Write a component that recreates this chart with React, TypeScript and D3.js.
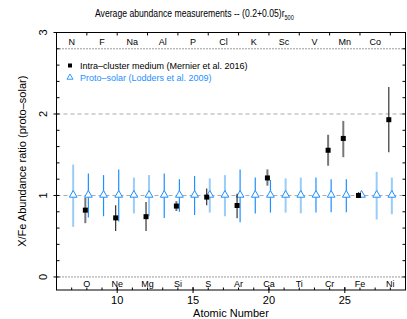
import * as React from "react";
import * as d3 from "d3";

// element labels printed along the top and bottom edges
const topNames = ["N", "F", "Na", "Al", "P", "Cl", "K", "Sc", "V", "Mn", "Co"];
const topZ = [7, 9, 11, 13, 15, 17, 19, 21, 23, 25, 27];
const bottomNames = ["O", "Ne", "Mg", "Si", "S", "Ar", "Ca", "Ti", "Cr", "Fe", "Ni"];
const bottomZ = [8, 10, 12, 14, 16, 18, 20, 22, 24, 26, 28];

// proto-solar (Lodders et al. 2009), ratio 1 with uncertainty range
const solarZ = [7, 8, 9, 10, 11, 12, 13, 14, 15, 16, 17, 18, 19, 20, 21, 22, 23, 24, 25, 26, 27, 28];
const solarLow = [0.615, 0.73, 0.745, 0.68, 0.78, 0.745, 0.725, 0.8, 0.76, 0.79, 0.745, 0.67, 0.78, 0.79, 0.79, 0.78, 0.79, 0.795, 0.795, 0.98, 0.705, 0.77];
const solarHigh = [1.38, 1.27, 1.25, 1.32, 1.22, 1.25, 1.27, 1.2, 1.24, 1.21, 1.25, 1.32, 1.22, 1.19, 1.21, 1.22, 1.22, 1.2, 1.2, 1.045, 1.29, 1.22];
const solarFaint = [true, false, false, false, true, true, false, false, false, true, true, false, false, false, true, true, false, false, false, false, true, true];

// intra-cluster medium measurements
const icmZ = [8, 10, 12, 14, 16, 18, 20, 24, 25, 26, 28];
const icmValue = [0.82, 0.725, 0.74, 0.87, 0.98, 0.877, 1.215, 1.555, 1.7, 1.0, 1.93];
const icmLow = [0.66, 0.565, 0.565, 0.81, 0.88, 0.72, 1.12, 1.365, 1.47, 0.98, 1.53];
const icmHigh = [0.97, 0.88, 0.92, 0.93, 1.085, 1.02, 1.32, 1.745, 1.915, 1.04, 2.33];
const icmGray = [true, false, false, true, false, false, true, true, true, false, false];

const xMajor = [10, 15, 20, 25];
const yMajor = [0, 1, 2, 3];

const font = "'Liberation Sans', Arial, sans-serif";
const blue = "#1e90ff";
const faintBlue = "#99ccf8";

export default function App() {
	const width = 407;
	const height = 319;
	const left = 56.5;
	const right = 405.5;
	const top = 32.5;
	const bottom = 290;

	const x = d3.scaleLinear([6, 29], [left, right]);
	const y = d3.scaleLinear([-0.16, 3], [bottom, top]);

	const xMinor = d3.range(7, 29);
	const yMinor = d3.range(0, 3.01, 0.2);
	const tri = d3.symbol(d3.symbolTriangle, 26)()!;

	return (
		<svg
			width={width}
			height={height}
			style={{ position: "absolute", left: 0, top: 0, background: "white" }}
			fontFamily={font}
		>
			{/* title, squeezed horizontally like the narrow original */}
			<g transform="translate(95,16.5) scale(0.8,1)">
				<text x={0} y={0} fontSize={10.8}>
					Average abundance measurements -- (0.2+0.05)r
					<tspan fontSize={7} dy={3}>500</tspan>
				</text>
			</g>

			{/* reference lines */}
			<line x1={left} x2={right} y1={y(2)} y2={y(2)} stroke="#aaa" strokeDasharray="4,3" />
			<line x1={left} x2={right} y1={y(1)} y2={y(1)} stroke="#aaa" strokeDasharray="4,3" />
			<line x1={left} x2={right} y1={y(0)} y2={y(0)} stroke="black" strokeWidth={0.8} strokeDasharray="1,2" />
			<line x1={left} x2={right} y1={y(2.8)} y2={y(2.8)} stroke="black" strokeWidth={0.8} strokeDasharray="1,2" />

			{/* proto-solar bars */}
			{solarZ.map((z, i) => (
				<line
					key={"s" + z}
					x1={x(z + 0.1)}
					x2={x(z + 0.1)}
					y1={y(solarLow[i])}
					y2={y(solarHigh[i])}
					stroke={solarFaint[i] ? faintBlue : blue}
					strokeWidth={solarFaint[i] ? 2 : 1.2}
				/>
			))}
			{solarZ.map((z) => (
				<path
					key={"t" + z}
					d={tri}
					transform={`translate(${x(z + 0.1)},${y(1) - 0.5})`}
					fill="white"
					stroke={blue}
					strokeWidth={1}
				/>
			))}

			{/* ICM points */}
			{icmZ.map((z, i) => (
				<g key={"i" + z}>
					<line
						x1={x(z - 0.1)}
						x2={x(z - 0.1)}
						y1={y(icmLow[i])}
						y2={y(icmHigh[i])}
						stroke={icmGray[i] ? "#777" : "#222"}
						strokeWidth={icmGray[i] ? 2 : 1.1}
					/>
					<rect x={x(z - 0.1) - 2.5} y={y(icmValue[i]) - 2.5} width={5} height={5} fill="black" />
				</g>
			))}

			{/* frame */}
			<rect x={left} y={top} width={right - left} height={bottom - top} fill="none" stroke="black" strokeWidth={1} />

			{/* bottom axis */}
			{xMinor.map((z) => (
				<line key={"bx" + z} x1={x(z)} x2={x(z)} y1={bottom} y2={bottom - 2.5} stroke="black" />
			))}
			{xMajor.map((z) => (
				<g key={"mx" + z}>
					<line x1={x(z)} x2={x(z)} y1={bottom - 3} y2={bottom + 3} stroke="black" />
					<text x={x(z)} y={304} fontSize={11} textAnchor="middle">
						{z}
					</text>
				</g>
			))}
			{/* top ticks */}
			{bottomZ.map((z) => (
				<line key={"tx" + z} x1={x(z)} x2={x(z)} y1={top} y2={top + 3} stroke="black" />
			))}
			<text x={(left + right) / 2} y={317} fontSize={11} textAnchor="middle">
				Atomic Number
			</text>

			{/* element names */}
			{topNames.map((n, i) => (
				<text key={"tn" + n} x={x(topZ[i])} y={44.5} fontSize={9} textAnchor="middle" fill="black">
					{n}
				</text>
			))}
			{bottomNames.map((n, i) => (
				<text key={"bn" + n} x={x(bottomZ[i])} y={287} fontSize={9} textAnchor="middle" fill="black">
					{n}
				</text>
			))}

			{/* y axes */}
			{yMinor.map((v) => (
				<g key={"y" + v.toFixed(1)}>
					<line x1={left} x2={left + 3} y1={y(v)} y2={y(v)} stroke="black" />
					<line x1={right} x2={right - 3} y1={y(v)} y2={y(v)} stroke="black" />
				</g>
			))}
			{yMajor.map((v) => (
				<g key={"my" + v}>
					<line x1={left - 3} x2={left} y1={y(v)} y2={y(v)} stroke="black" />
					<text
						fontSize={11}
						textAnchor="middle"
						transform={`translate(${47},${y(v)}) rotate(-90)`}
					>
						{v}
					</text>
				</g>
			))}
			<text
				fontSize={11}
				textAnchor="middle"
				transform={`translate(${26},${(top + bottom) / 2}) rotate(-90)`}
			>
				X/Fe Abundance ratio (proto–solar)
			</text>

			{/* legend */}
			<rect x={68} y={63.5} width={4} height={4} fill="black" />
			<text x={80} y={68.5} fontSize={9}>
				Intra–cluster medium (Mernier et al. 2016)
			</text>
			<path d={d3.symbol(d3.symbolTriangle, 16)()!} transform="translate(70,77.5)" fill="white" stroke={blue} strokeWidth={0.9} />
			<text x={80} y={80.5} fontSize={9} fill={blue}>
				Proto–solar (Lodders et al. 2009)
			</text>
		</svg>
	);
}
